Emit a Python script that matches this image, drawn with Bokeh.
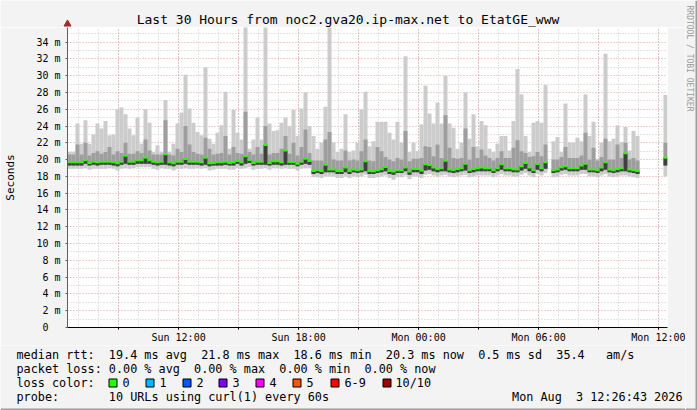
import numpy as np
from bokeh.plotting import figure
from bokeh.layouts import column, row
from bokeh.models import ColumnDataSource, Range1d, FixedTicker, Grid
from bokeh.core.properties import value
from bokeh.embed import file_html
from bokeh.resources import INLINE

# ------------------------------------------------------------------ data
# 150 bins of 12 minutes (30 hours), values in milliseconds
median = [
    19.68, 19.68, 19.68, 19.68, 19.92, 19.60, 19.76, 19.68, 19.76, 19.76,
    19.76, 19.68, 19.56, 19.76, 20.47, 19.76, 19.76, 19.92, 19.92, 20.23,
    19.92, 19.76, 19.68, 19.76, 20.63, 19.68, 19.56, 19.76, 19.76, 20.07,
    19.76, 19.76, 19.76, 19.68, 20.23, 19.56, 19.60, 19.68, 19.68, 19.76,
    19.60, 19.68, 19.84, 19.68, 20.39, 19.96, 19.60, 19.76, 19.76, 21.73,
    19.60, 19.80, 19.80, 19.68, 21.10, 19.72, 19.72, 19.52, 19.76, 20.10,
    19.84, 18.65, 18.73, 18.65, 19.40, 18.81, 18.81, 18.65, 18.65, 19.05,
    18.65, 18.81, 18.73, 18.81, 19.80, 18.65, 18.61, 18.73, 18.85, 19.13,
    18.65, 18.57, 18.73, 18.73, 19.05, 18.57, 18.89, 18.89, 18.69, 19.44,
    19.36, 19.05, 18.89, 18.97, 19.88, 18.81, 18.77, 18.89, 18.97, 19.52,
    18.73, 18.89, 18.97, 19.05, 18.97, 18.97, 18.73, 18.97, 19.44, 18.97,
    18.97, 18.85, 18.81, 19.21, 19.60, 19.05, 18.73, 19.48, 18.97, 19.68,
    None, 18.73, 18.81, 19.09, 19.21, 18.97, 18.97, 18.97, 19.29, 19.52,
    18.81, 18.81, 18.73, 19.05, 19.68, 18.81, 18.73, 18.89, 18.97, 20.75,
    18.81, 18.73, 18.65, None, None, None, None, None, None, 20.23,
]
maximum = [
    20.9, 20.9, 24.3, 21.9, 24.7, 21.9, 23.0, 24.3, 23.7, 24.6,
    22.9, 23.0, 26.0, 26.2, 25.4, 23.7, 22.9, 25.0, 21.9, 26.0,
    24.4, 20.9, 21.7, 20.9, 27.1, 20.9, 21.9, 24.3, 25.6, 30.1,
    26.1, 24.4, 23.3, 22.9, 31.0, 22.5, 21.9, 23.2, 24.1, 28.1,
    21.3, 25.9, 23.2, 22.4, 36.0, 21.3, 22.4, 25.0, 22.4, 36.0,
    24.3, 23.4, 23.5, 24.4, 25.0, 24.0, 25.9, 22.8, 26.1, 28.0,
    24.0, 22.8, 21.3, 22.0, 26.3, 36.0, 22.0, 20.9, 21.3, 25.4,
    20.9, 21.1, 22.0, 26.0, 28.1, 21.6, 22.2, 24.5, 24.5, 24.5,
    23.2, 22.4, 24.5, 22.0, 32.3, 20.9, 22.0, 21.0, 24.2, 28.8,
    25.5, 24.3, 26.8, 24.3, 30.0, 24.3, 23.8, 21.3, 22.0, 28.0,
    22.5, 25.4, 21.6, 24.6, 24.1, 21.3, 20.9, 21.9, 22.8, 22.8,
    21.1, 24.6, 30.8, 27.8, 22.8, 20.9, 24.4, 24.6, 24.4, 28.9,
    None, 22.2, 22.7, 20.9, 26.7, 22.0, 22.0, 22.6, 22.2, 27.8,
    22.8, 24.5, 20.1, 22.0, 32.6, 22.2, 22.5, 24.1, 22.1, 23.9,
    21.1, 23.4, 22.8, None, None, None, None, None, None, 27.7,
]
upper = [
    20.6, 20.6, 21.8, 20.6, 22.0, 20.5, 20.8, 21.0, 20.7, 20.9,
    21.5, 20.6, 21.0, 20.8, 22.0, 20.7, 20.7, 21.0, 20.8, 22.4,
    21.1, 20.6, 20.6, 20.6, 24.7, 20.6, 20.5, 21.3, 20.9, 24.0,
    21.8, 20.9, 20.7, 20.6, 22.6, 21.3, 20.6, 20.7, 20.8, 22.8,
    20.6, 21.5, 20.8, 20.7, 25.7, 20.9, 20.6, 21.5, 20.7, 24.0,
    20.6, 20.8, 20.8, 21.3, 22.8, 20.7, 22.0, 20.5, 21.5, 23.6,
    20.8, 19.9, 19.9, 19.9, 22.4, 23.3, 20.0, 19.9, 19.9, 21.1,
    19.9, 20.0, 19.9, 21.0, 22.4, 19.9, 19.8, 21.5, 21.0, 20.3,
    20.0, 19.8, 20.2, 20.0, 23.4, 19.8, 20.1, 20.1, 20.2, 21.6,
    21.5, 20.4, 21.8, 20.2, 25.3, 21.4, 20.2, 20.1, 20.2, 23.7,
    20.0, 21.5, 20.2, 21.2, 20.5, 20.2, 19.9, 20.2, 21.0, 20.2,
    20.2, 21.4, 22.3, 21.0, 20.8, 20.3, 20.4, 20.9, 20.4, 21.8,
    None, 20.0, 20.0, 20.3, 21.5, 20.2, 20.2, 20.2, 20.5, 23.2,
    20.0, 21.4, 19.9, 20.3, 22.5, 20.0, 20.0, 21.8, 20.2, 22.0,
    20.0, 20.2, 19.9, None, None, None, None, None, None, 22.0,
]
lower = [
    19.3, 19.3, 19.3, 19.3, 19.5, 19.3, 19.4, 19.3, 19.4, 19.4,
    19.4, 19.3, 19.2, 19.4, 19.5, 19.4, 19.4, 19.5, 19.5, 19.5,
    19.5, 19.4, 19.3, 19.4, 19.4, 19.3, 19.2, 19.4, 19.4, 19.5,
    19.4, 19.4, 19.4, 19.3, 19.4, 19.2, 19.3, 19.3, 19.3, 19.4,
    19.3, 19.3, 19.5, 19.3, 19.5, 19.6, 19.3, 19.4, 19.4, 19.4,
    19.3, 19.4, 19.4, 19.3, 19.4, 19.4, 19.4, 19.2, 19.4, 19.5,
    19.4, 18.3, 18.4, 18.3, 18.5, 18.5, 18.5, 18.3, 18.3, 18.5,
    18.3, 18.5, 18.4, 18.5, 18.6, 18.3, 18.3, 18.4, 18.5, 18.6,
    18.3, 18.2, 18.4, 18.4, 18.6, 18.2, 18.5, 18.5, 18.3, 18.7,
    18.8, 18.6, 18.5, 18.6, 18.6, 18.5, 18.4, 18.5, 18.6, 18.7,
    18.4, 18.5, 18.6, 18.6, 18.6, 18.6, 18.4, 18.6, 18.8, 18.6,
    18.6, 18.5, 18.5, 18.7, 18.9, 18.6, 18.4, 18.8, 18.6, 18.9,
    None, 18.4, 18.5, 18.7, 18.8, 18.6, 18.6, 18.6, 18.8, 18.8,
    18.5, 18.5, 18.4, 18.6, 18.8, 18.5, 18.4, 18.5, 18.6, 18.6,
    18.5, 18.4, 18.3, None, None, None, None, None, None, 19.3,
]
minimum = [
    18.9, 18.9, 18.9, 18.9, 19.0, 18.8, 18.9, 18.9, 18.9, 18.9,
    19.0, 18.9, 18.7, 18.9, 19.0, 18.9, 19.0, 19.1, 19.1, 19.1,
    19.1, 18.9, 18.8, 19.0, 18.9, 18.9, 18.7, 18.9, 18.9, 19.0,
    18.9, 18.9, 19.0, 18.9, 19.0, 18.7, 18.8, 18.9, 18.9, 18.9,
    18.8, 18.8, 19.0, 18.9, 19.0, 19.1, 18.8, 18.9, 18.9, 19.0,
    18.8, 19.0, 19.0, 18.9, 19.0, 18.9, 18.9, 18.7, 18.9, 19.0,
    19.0, 17.9, 17.9, 17.8, 18.0, 18.0, 18.0, 17.8, 17.8, 18.0,
    17.8, 18.0, 17.9, 18.0, 18.2, 17.8, 17.8, 17.9, 18.0, 18.1,
    17.8, 17.6, 17.9, 17.9, 18.1, 17.7, 18.0, 18.0, 17.8, 18.2,
    18.3, 18.1, 18.0, 18.1, 18.2, 18.0, 17.9, 18.0, 18.1, 18.2,
    17.9, 18.0, 18.1, 18.1, 18.1, 18.1, 17.9, 18.1, 18.3, 18.1,
    18.1, 18.0, 18.0, 18.2, 18.4, 18.1, 17.9, 18.3, 18.1, 18.4,
    None, 17.9, 18.0, 18.2, 18.3, 18.1, 18.1, 18.1, 18.3, 18.3,
    18.0, 18.0, 17.9, 18.1, 18.3, 18.0, 17.9, 18.0, 18.1, 18.1,
    18.0, 17.9, 17.8, None, None, None, None, None, None, 18.0,
]

BIN_HOURS = 0.2                                  # 12 minute bins
HOURS_TO_SUN_NOON = 5 + 33 / 60 + 17 / 3600      # start = Sun 06:26:43
x_tick_labels = ["Sun 12:00", "Sun 18:00", "Mon 00:00", "Mon 06:00", "Mon 12:00"]
y_ticks = list(range(0, 35, 2))
y_tick_labels = ["0\u00a0\u00a0"] + ["%d m" % v for v in y_ticks[1:]]

title_text = "Last 30 Hours from noc2.gva20.ip-max.net to EtatGE_www"
y_title = "Seconds"
side_text = "RRDTOOL / TOBI OETIKER"
legend_lines = [
    "median rtt:  19.4 ms avg  21.8 ms max  18.6 ms min  20.3 ms now  0.5 ms sd  35.4   am/s",
    "packet loss: 0.00 % avg  0.00 % max  0.00 % min  0.00 % now",
    "loss color:",
    "probe:       10 URLs using curl(1) every 60s",
]
loss_labels = ["0", "1", "2", "3", "4", "5", "6-9", "10/10"]
loss_colors = ["#26ff00", "#00b8ff", "#0059ff", "#7e00ff", "#ff00ff", "#ff5500", "#ff0000", "#a10000"]
date_text = "Mon Aug  3 12:26:43 2026"

# ------------------------------------------------------------------ layout (page px)
W, H = 697, 410
SIDE_W = 12
MAIN_W = W - SIDE_W
FRAME_X0, FRAME_X1 = 67, 667
FRAME_Y0, FRAME_Y1 = 27, 329
MAIN_BOTTOM = 345
BG = "#f3f3f3"
EDGE = "#9c9c9c"
MONO = "DejaVu Sans Mono"


def nb(s):
    return s.replace(" ", "\u00a0")


def arr(v):
    return np.array([np.nan if a is None else a for a in v], dtype=float)


def no_align(f):
    try:
        f.frame_align = False
    except Exception:
        pass
    return f


def blank_fig(w, h, x0, x1, y_top, y_bottom):
    f = figure(width=w, height=h, x_range=Range1d(x0, x1), y_range=Range1d(y_bottom, y_top),
               output_backend="svg", toolbar_location=None, tools="",
               x_axis_type=None, y_axis_type=None,
               min_border_left=0, min_border_right=0, min_border_top=0, min_border_bottom=0,
               background_fill_color=BG, border_fill_color=BG, outline_line_color=None)
    f.grid.visible = False
    return no_align(f)


# ---------------- title strip
top = blank_fig(MAIN_W, FRAME_Y0, 0, MAIN_W, 0, FRAME_Y0)
top.text(x=[347.5], y=[19], text=[nb(title_text)], text_align="center", text_baseline="middle",
         text_font=value(MONO), text_font_size=value("13px"), text_color="#000000")
top.scatter(x=[FRAME_X0], y=[23.5], marker="triangle", size=7,
            fill_color="#a52a2a", line_color="#a52a2a")

# ---------------- main plot
n = len(median)
left = np.arange(n) * BIN_HOURS
src = ColumnDataSource(dict(left=left, right=left + BIN_HOURS,
                            med=arr(median), mx=arr(maximum), up=arr(upper),
                            lo=arr(lower), mn=arr(minimum)))
y_top = (FRAME_Y1 - FRAME_Y0) / 8.45

p = figure(width=MAIN_W, height=MAIN_BOTTOM - FRAME_Y0,
           x_range=Range1d(0, 30), y_range=Range1d(0, y_top),
           output_backend="svg", toolbar_location=None, tools="",
           min_border_left=FRAME_X0, min_border_right=MAIN_W - FRAME_X1,
           min_border_top=0, min_border_bottom=MAIN_BOTTOM - FRAME_Y1,
           background_fill_color="#ffffff", border_fill_color=BG,
           outline_line_color=None)
no_align(p)
p.xgrid.visible = False
p.ygrid.visible = False

hour_lines = [HOURS_TO_SUN_NOON + k for k in range(-5, 25)]
three_h = [HOURS_TO_SUN_NOON + 3 * k for k in range(-1, 9)]
label_h = [HOURS_TO_SUN_NOON + 6 * k for k in range(5)]
for dim, ticks, col in [(0, hour_lines, "#c8c8c8"), (1, list(range(1, 36, 2)), "#c8c8c8"),
                        (0, three_h, "#eb9e9e"), (1, y_ticks[1:], "#eb9e9e")]:
    p.add_layout(Grid(dimension=dim, ticker=FixedTicker(ticks=ticks), grid_line_color=col,
                      grid_line_dash="1 2", grid_line_width=1, level="underlay"))

p.quad(left="left", right="right", bottom="mn", top="mx", source=src,
       fill_color="#cccccc", line_color=None)
p.quad(left="left", right="right", bottom="lo", top="up", source=src,
       fill_color="#9e9e9e", line_color=None)
p.quad(left="left", right="right", bottom="lo", top="med", source=src,
       fill_color="#3f3f3f", line_color=None)
p.segment(x0="left", y0="med", x1="right", y1="med", source=src,
          line_color="#26ff00", line_width=2, line_cap="butt")

xa = p.xaxis[0]
xa.ticker = FixedTicker(ticks=label_h, minor_ticks=three_h)
xa.major_label_overrides = {t: l for t, l in zip(label_h, x_tick_labels)}
xa.axis_line_color = "#000000"
xa.major_tick_line_color = "#000000"
xa.minor_tick_line_color = "#000000"
xa.major_tick_out = 2
xa.major_tick_in = 0
xa.minor_tick_out = 2
xa.minor_tick_in = 0
xa.major_label_standoff = 2
xa.major_label_text_font = MONO
xa.major_label_text_font_size = "10px"
xa.major_label_text_color = "#000000"

ya = p.yaxis[0]
ya.ticker = FixedTicker(ticks=y_ticks, minor_ticks=[])
ya.major_label_overrides = {t: l for t, l in zip(y_ticks, y_tick_labels)}
ya.axis_line_color = "#606060"
ya.major_tick_line_color = "#606060"
ya.major_tick_out = 2
ya.major_tick_in = 0
ya.major_label_standoff = 5
ya.major_label_text_font = MONO
ya.major_label_text_font_size = "10px"
ya.major_label_text_color = "#000000"
ya.axis_label = y_title
ya.axis_label_text_font = MONO
ya.axis_label_text_font_style = "normal"
ya.axis_label_text_font_size = "11px"
ya.axis_label_text_color = "#000000"
ya.axis_label_standoff = 16

# ---------------- legend strip
leg = blank_fig(MAIN_W, H - MAIN_BOTTOM, 0, MAIN_W, MAIN_BOTTOM, H)
LEG = "11.8px"
line_y = [354, 368, 382, 396]
leg.text(x=[16] * 4, y=line_y, text=[nb(s) for s in legend_lines],
         text_align="left", text_baseline="middle", text_font=value(MONO),
         text_font_size=value(LEG), text_color="#000000")
leg.text(x=[682], y=[396], text=[nb(date_text)], text_align="right", text_baseline="middle",
         text_font=value(MONO), text_font_size=value(LEG), text_color="#000000")
box_x = np.array([108, 145, 182, 218, 255, 292, 330, 382])
text_x = [122, 159, 196, 232, 269, 306, 344, 395]
leg.quad(left=box_x + 0.5, right=box_x + 8.5, top=[378.5] * 8, bottom=[386.5] * 8,
         fill_color=loss_colors, line_color="#000000", line_width=1)
leg.text(x=text_x, y=[382] * 8, text=loss_labels, text_align="left", text_baseline="middle",
         text_font=value(MONO), text_font_size=value(LEG), text_color="#000000")
leg.quad(left=[0], right=[MAIN_W], top=[H - 2], bottom=[H], fill_color=EDGE, line_color=None)

# ---------------- right side credit
side = blank_fig(SIDE_W, H, MAIN_W, W, 0, H)
side.text(x=[689], y=[5], text=[nb(side_text)], angle=-np.pi / 2, text_align="left",
          text_baseline="middle", text_font=value(MONO), text_font_size=value("8px"),
          text_color="#9a9a9a")
side.quad(left=[W - 2], right=[W], top=[0], bottom=[H], fill_color=EDGE, line_color=None)
side.quad(left=[MAIN_W], right=[W], top=[H - 2], bottom=[H], fill_color=EDGE, line_color=None)

layout = row(column(top, p, leg, spacing=0), side, spacing=0)
open("out.html", "w").write(file_html(layout, INLINE))
